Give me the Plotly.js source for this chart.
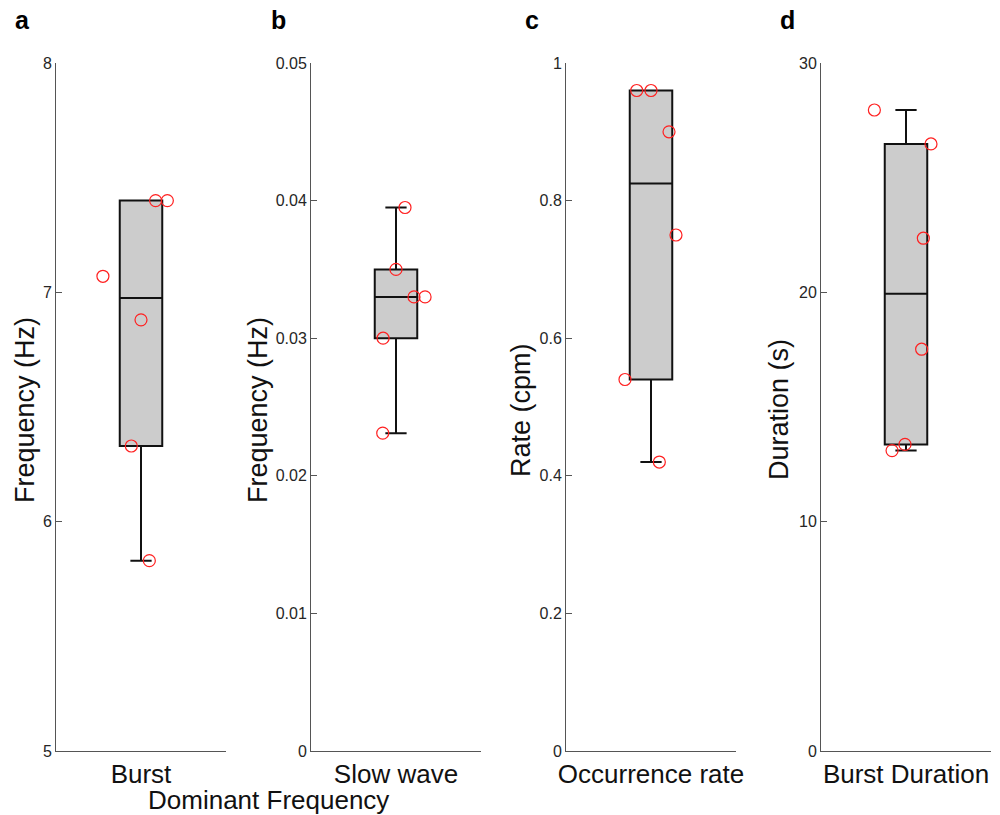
<!DOCTYPE html>
<html>
<head>
<meta charset="utf-8">
<script src="https://cdn.plot.ly/plotly-3.0.1.min.js"></script>
<style>html,body{margin:0;padding:0;background:#fff}#chart{width:1000px;height:815px}</style>
</head>
<body>
<div id="chart"></div>
<script>
// Panel labels and categories
const panelLetters = ['a', 'b', 'c', 'd'];
const categories = ['Burst', 'Slow wave', 'Occurrence rate', 'Burst Duration'];
const yTitles = ['Frequency (Hz)', 'Frequency (Hz)', 'Rate (cpm)', 'Duration (s)'];

// Individual values (red circles)
const burstFreq = [7.40, 7.40, 7.07, 6.88, 6.33, 5.83];
const slowWaveFreq = [0.0395, 0.0350, 0.0330, 0.0330, 0.0300, 0.0231];
const occurrenceRate = [0.96, 0.96, 0.90, 0.75, 0.54, 0.42];
const burstDuration = [27.95, 26.47, 22.36, 17.52, 13.37, 13.10];

// Horizontal jitter of the circles (x offsets from the box centre)
const burstJitter = [0.086, 0.155, -0.224, 0.0, -0.057, 0.049];
const slowWaveJitter = [0.053, 0.0, 0.106, 0.171, -0.076, -0.078];
const rateJitter = [-0.084, 0.0, 0.106, 0.147, -0.153, 0.049];
const durationJitter = [-0.186, 0.147, 0.102, 0.092, -0.006, -0.082];

// Box statistics (lower whisker, q1, median, q3, upper whisker)
const lowerWhisker = [5.83, 0.0231, 0.42, 13.10];
const q1Values = [6.33, 0.0300, 0.54, 13.37];
const medianValues = [6.975, 0.0330, 0.825, 19.94];
const q3Values = [7.40, 0.0350, 0.96, 26.47];
const upperWhisker = [7.40, 0.0395, 0.96, 27.95];

// Axis ranges and ticks
const yRanges = [[5, 8], [0, 0.05], [0, 1], [0, 30]];
const yTicks = [[5, 6, 7, 8], [0, 0.01, 0.02, 0.03, 0.04, 0.05], [0, 0.2, 0.4, 0.6, 0.8, 1], [0, 10, 20, 30]];
const yTickText = [['5', '6', '7', '8'], ['0', '0.01', '0.02', '0.03', '0.04', '0.05'], ['0', '0.2', '0.4', '0.6', '0.8', '1'], ['0', '10', '20', '30']];

const pointSets = [burstFreq, slowWaveFreq, occurrenceRate, burstDuration];
const jitterSets = [burstJitter, slowWaveJitter, rateJitter, durationJitter];

const W = 1000, H = 815;
const xDomains = [[56, 226], [311, 481], [566, 736], [821, 991]];
const yTop = 63, yBot = 751;
const yDomain = [1 - yBot / H, 1 - yTop / H];
const yTitleX = [25, 258, 521, 779];
const letterX = [22, 278, 532, 787];

const axisColor = '#555555';
const textColor = '#262626';
const baseFont = 'Liberation Sans, Arial, Helvetica, sans-serif';

const data = [];
const layout = {
  width: W, height: H,
  margin: {l: 0, r: 0, t: 0, b: 0},
  paper_bgcolor: '#ffffff', plot_bgcolor: '#ffffff',
  showlegend: false,
  font: {family: baseFont, color: textColor},
  annotations: []
};

for (let i = 0; i < 4; i++) {
  const sfx = i === 0 ? '' : String(i + 1);
  const xa = 'x' + sfx, ya = 'y' + sfx;
  data.push({
    type: 'box',
    x: [1],
    q1: [q1Values[i]], median: [medianValues[i]], q3: [q3Values[i]],
    lowerfence: [lowerWhisker[i]], upperfence: [upperWhisker[i]],
    boxpoints: false,
    width: 0.25,
    whiskerwidth: 0.5,
    fillcolor: '#cccccc',
    line: {color: '#111111', width: 2},
    xaxis: xa, yaxis: ya,
    hoverinfo: 'skip'
  });
  data.push({
    type: 'scatter', mode: 'markers',
    x: jitterSets[i].map(j => 1 + j),
    y: pointSets[i],
    marker: {symbol: 'circle-open', size: 12, color: '#ff2020', line: {width: 1.2, color: '#ff2020'}},
    xaxis: xa, yaxis: ya,
    cliponaxis: false,
    hoverinfo: 'skip'
  });
  layout['xaxis' + sfx] = {
    domain: [xDomains[i][0] / W, xDomains[i][1] / W],
    anchor: ya,
    range: [0.5, 1.5],
    showgrid: false, zeroline: false,
    showline: true, linecolor: axisColor, linewidth: 1,
    tickvals: [1], ticktext: [categories[i]],
    ticks: '',
    tickfont: {size: 26, color: '#111111', family: baseFont},
    fixedrange: true
  };
  layout['yaxis' + sfx] = {
    domain: yDomain,
    anchor: xa,
    range: yRanges[i],
    showgrid: false, zeroline: false,
    showline: true, linecolor: axisColor, linewidth: 1,
    tickvals: yTicks[i], ticktext: yTickText[i],
    ticks: 'inside', ticklen: 6, tickcolor: axisColor, tickwidth: 1,
    tickfont: {size: 16, color: textColor, family: baseFont},
    fixedrange: true
  };
  layout.annotations.push({
    xref: 'paper', yref: 'paper',
    x: yTitleX[i] / W, y: 1 - 410 / H,
    xanchor: 'center', yanchor: 'middle',
    text: yTitles[i], textangle: -90, showarrow: false,
    font: {size: 27, color: '#111111', family: baseFont}
  });
  layout.annotations.push({
    xref: 'paper', yref: 'paper',
    x: letterX[i] / W, y: 1 - 20 / H,
    xanchor: 'center', yanchor: 'middle',
    text: '<b>' + panelLetters[i] + '</b>', showarrow: false,
    font: {size: 25, color: '#000000', family: baseFont}
  });
}
layout.annotations.push({
  xref: 'paper', yref: 'paper',
  x: 268 / W, y: 1 - 800 / H,
  xanchor: 'center', yanchor: 'middle',
  text: 'Dominant Frequency', showarrow: false,
  font: {size: 26, color: '#111111', family: baseFont}
});

Plotly.newPlot('chart', data, layout, {displayModeBar: false, staticPlot: true});
</script>
</body>
</html>
